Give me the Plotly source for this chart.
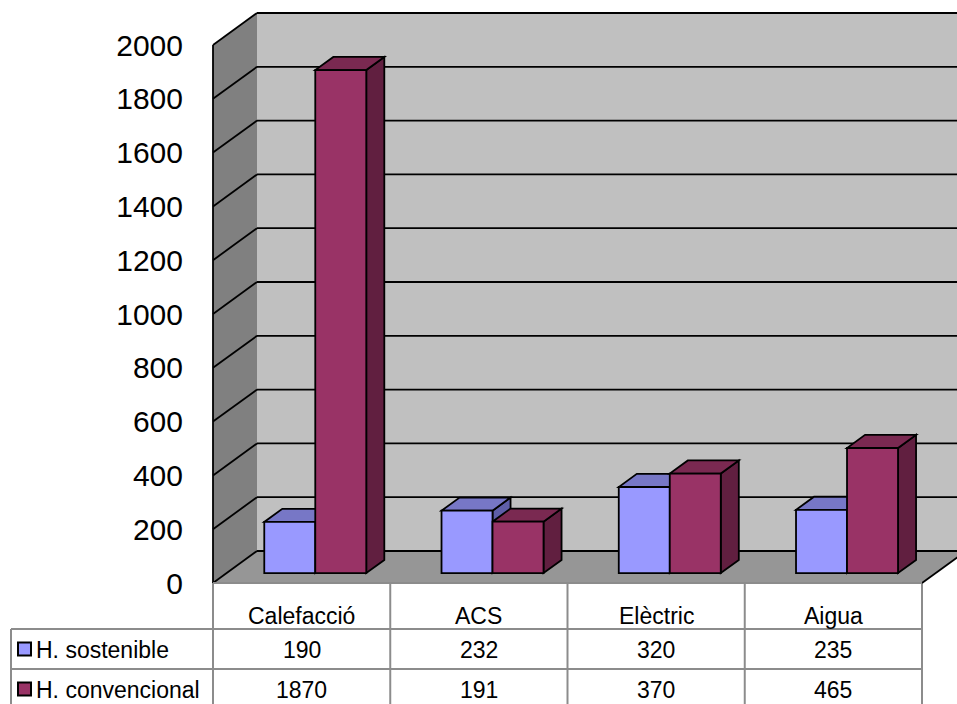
import plotly.graph_objects as go

# ---------------- data ----------------
categories = ["Calefacció", "ACS", "Elèctric", "Aigua"]
series_names = ["H. sostenible", "H. convencional"]
sostenible = [190, 232, 320, 235]
convencional = [1870, 191, 370, 465]
tick_vals = [0, 200, 400, 600, 800, 1000, 1200, 1400, 1600, 1800, 2000]
tick_text = [str(v) for v in tick_vals]
y_max = 2000

# ---------------- styles ----------------
FONT = "Arial, 'Liberation Sans', sans-serif"
front_cols = ["#9999FF", "#993366"]
top_cols = ["#7777C6", "#7A2951"]
side_cols = ["#5E5EA8", "#611F40"]
BACK_WALL = "#C0C0C0"
SIDE_WALL = "#808080"
FLOOR = "#969696"
TABLE_LINE = "#8C8C8C"

W, H = 957, 704
# pixel geometry of the front plane
PX_LEFT = 213.0          # x pixel of the left edge (x = -0.5)
PX_CAT = 177.25          # pixels per category
PY_ZERO = 583.0          # y pixel of value 0
PY_PER = 0.269           # pixels per value unit

def xd(px):
    return (px - PX_LEFT) / PX_CAT - 0.5

def yd(py):
    return (PY_ZERO - py) / PY_PER

# perspective depth (wall depth) in data units
DX = 44.0 / PX_CAT
DY = 32.0 / PY_PER
F0, F1 = 0.31, 0.72       # bar front / back depth fractions
BW = 51.0 / PX_CAT        # bar width in category units

n = len(categories)
x_lo, x_hi = xd(0), xd(W)
y_lo, y_hi = yd(H), yd(0)

fig = go.Figure()
shapes = []

def poly(pts, fill, lw=0, lc="black"):
    path = "M " + " L ".join(f"{x},{y}" for x, y in pts) + " Z"
    return dict(type="path", path=path, xref="x", yref="y", fillcolor=fill,
                line=dict(color=lc, width=lw), layer="below")

def seg(x0, y0, x1, y1, color="black", width=1.8, xref="x", yref="y"):
    return dict(type="line", x0=x0, y0=y0, x1=x1, y1=y1, xref=xref, yref=yref,
                line=dict(color=color, width=width), layer="below")

xl, xr = -0.5, n - 0.5
# walls and floor
shapes.append(poly([(xl + DX, DY), (xr + DX + 0.5, DY), (xr + DX + 0.5, y_max + DY), (xl + DX, y_max + DY)], BACK_WALL))
shapes.append(poly([(xl, 0), (xl, y_max), (xl + DX, y_max + DY), (xl + DX, DY)], SIDE_WALL))
shapes.append(poly([(xl, 0), (xl + DX, DY), (xr + DX, DY), (xr, 0)], FLOOR))
# gridlines
for v in tick_vals:
    shapes.append(seg(xl + DX, v + DY, xr + DX + 0.5, v + DY))
    shapes.append(seg(xl, v, xl + DX, v + DY))
shapes.append(seg(xl, 0, xl, y_max))
shapes.append(seg(xr, 0, xr + DX, DY))
shapes.append(seg(xl, 0, xr, 0, color=TABLE_LINE, width=2))

# bars: fronts as Bar traces, top/side faces as shapes
base = F0 * DY
ddx = (F1 - F0) * DX
ddy = (F1 - F0) * DY
series = [sostenible, convencional]
offsets = [-BW / 2 + F0 * DX, BW / 2 + F0 * DX]
for s, vals in enumerate(series):
    for i, v in enumerate(vals):
        cx = i + offsets[s]
        l, r = cx - BW / 2, cx + BW / 2
        b, t = base, base + v
        shapes.append(poly([(r, b), (r, t), (r + ddx, t + ddy), (r + ddx, b + ddy)], side_cols[s], 1.8))
        shapes.append(poly([(l, t), (r, t), (r + ddx, t + ddy), (l + ddx, t + ddy)], top_cols[s], 1.8))
    fig.add_trace(go.Bar(
        x=[i + offsets[s] for i in range(n)], y=vals, base=base, width=BW,
        name=series_names[s], marker=dict(color=front_cols[s], line=dict(color="black", width=1.8)),
        showlegend=False, hoverinfo="skip"))

# ---------------- data table ----------------
row_px = [583, 629, 669, 712]
leg_left = xd(11)
def yp(py):
    return 1 - py / H

for k in range(n + 1):
    shapes.append(seg(k - 0.5, yp(row_px[0]), k - 0.5, yp(row_px[-1]), TABLE_LINE, 2, "x", "paper"))
shapes.append(seg(leg_left, yp(row_px[1]), leg_left, yp(row_px[-1]), TABLE_LINE, 2, "x", "paper"))
for py in row_px[1:]:
    shapes.append(seg(leg_left, yp(py), xr, yp(py), TABLE_LINE, 2, "x", "paper"))

annotations = []
text_rows = [616, 650, 690]
for i, c in enumerate(categories):
    annotations.append(dict(x=i, y=yp(text_rows[0]), xref="x", yref="paper", text=c, showarrow=False,
                            font=dict(family=FONT, size=23, color="black"), xanchor="center", yanchor="middle"))
for s, vals in enumerate(series):
    for i, v in enumerate(vals):
        annotations.append(dict(x=i, y=yp(text_rows[s + 1]), xref="x", yref="paper", text=str(v), showarrow=False,
                                font=dict(family=FONT, size=23, color="black"), xanchor="center", yanchor="middle"))
    annotations.append(dict(x=xd(34), y=yp(text_rows[s + 1]), xref="x", yref="paper", text=series_names[s],
                            showarrow=False, font=dict(family=FONT, size=23, color="black"),
                            xanchor="left", yanchor="middle"))
    cy = text_rows[s + 1] - 1
    shapes.append(dict(type="rect", xref="x", yref="paper", x0=xd(18), x1=xd(31), y0=yp(cy - 6.5), y1=yp(cy + 6.5),
                       fillcolor=front_cols[s], line=dict(color="black", width=2), layer="above"))

fig.update_layout(
    width=W, height=H, autosize=False,
    margin=dict(l=0, r=0, t=0, b=0, pad=0),
    paper_bgcolor="white", plot_bgcolor="white",
    barmode="overlay", showlegend=False,
    shapes=shapes, annotations=annotations,
    xaxis=dict(range=[x_lo, x_hi], visible=False, fixedrange=True),
    yaxis=dict(range=[y_lo, y_hi], anchor="free", position=PX_LEFT / W, side="left",
               tickvals=tick_vals, ticktext=tick_text, ticks="outside", ticklen=24,
               tickcolor="rgba(0,0,0,0)", showline=False, showgrid=False, zeroline=False,
               tickfont=dict(family=FONT, size=30, color="black"), fixedrange=True),
)

fig.write_html("out.html")
